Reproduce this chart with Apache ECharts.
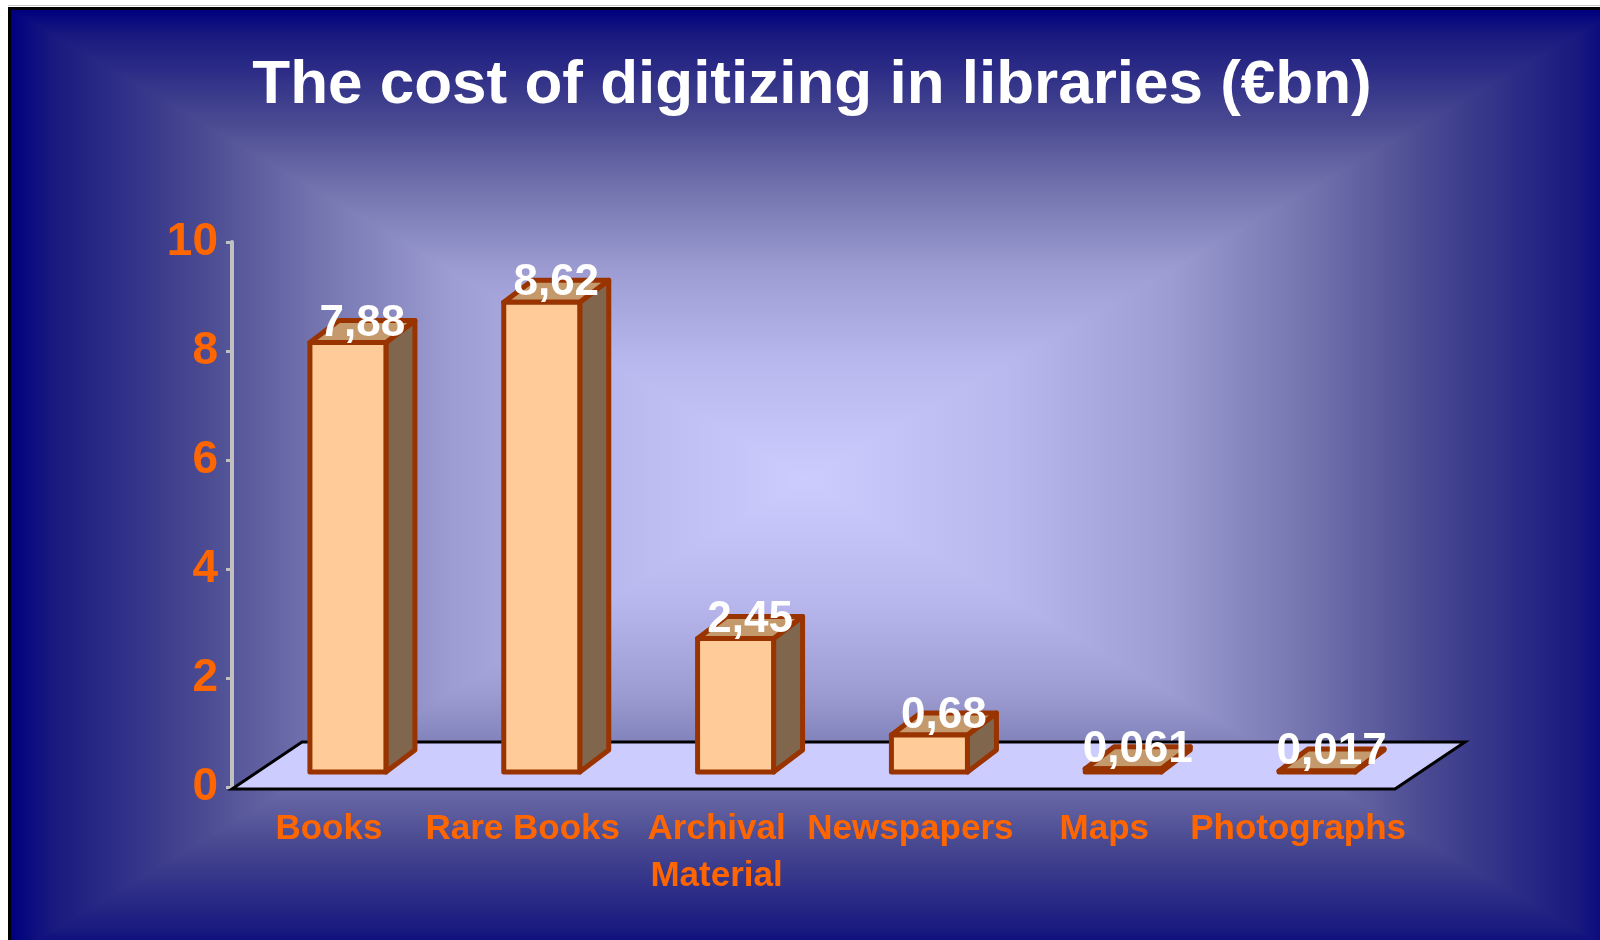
<!DOCTYPE html>
<html>
<head>
<meta charset="utf-8">
<title>The cost of digitizing in libraries</title>
<script src="https://cdn.jsdelivr.net/npm/echarts@6/dist/echarts.min.js"></script>
<style>
  html, body { margin: 0; padding: 0; background: #ffffff; }
  #chart { width: 1600px; height: 940px; }
</style>
</head>
<body>
<div id="chart"></div>
<script>
// chart data
const categories = ["Books", "Rare Books", "Archival\nMaterial", "Newspapers", "Maps", "Photographs"];
const costs = [7.88, 8.62, 2.45, 0.68, 0.061, 0.017];
const yTicks = { min: 0, max: 10, interval: 2 };

const FONT = "'Liberation Sans', Arial, sans-serif";
const ORANGE = "#ff6600";

// fake 3d geometry (pixels)
const BAR_SHIFT = 19;      // bar centre right of category centre
const BAR_HALF = 38;       // half width of front face
const BAR_LIFT = 15;       // bar bottom above the value axis zero
const BAR_DX = 29, BAR_DY = 22;
const FLOOR_DX = 70, FLOOR_DY = 47;

const chart = echarts.init(document.getElementById("chart"));

// rectangular "from centre" gradient: two half rects + two triangles on top
const L = 11, T = 10, R = 1620, B = 955;
const C = [806, 480];
const stops = [
  { offset: 0, color: "#000080" },
  { offset: 0.05, color: "#18187f" },
  { offset: 0.12, color: "#2a2a86" },
  { offset: 0.24, color: "#4a4a92" },
  { offset: 0.37, color: "#7070ac" },
  { offset: 0.55, color: "#9c9cd2" },
  { offset: 0.75, color: "#b8b8ee" },
  { offset: 1, color: "#ccccff" }
];
const grad = (x, y, x2, y2) => new echarts.graphic.LinearGradient(x, y, x2, y2, stops);

const background = [
  { type: "rect", z: -12, silent: true, shape: { x: L, y: T, width: C[0] - L, height: B - T }, style: { fill: grad(0, 0, 1, 0) } },
  { type: "rect", z: -12, silent: true, shape: { x: C[0], y: T, width: R - C[0], height: B - T }, style: { fill: grad(1, 0, 0, 0) } },
  { type: "polygon", z: -11, silent: true, shape: { points: [[L, T], [R, T], C] }, style: { fill: grad(0, 0, 0, 1) } },
  { type: "polygon", z: -11, silent: true, shape: { points: [[L, B], [R, B], C] }, style: { fill: grad(0, 1, 0, 0) } },
  { type: "rect", z: -5, silent: true, shape: { x: 8, y: 7, width: 1592, height: 3 }, style: { fill: "#000000" } },
  { type: "rect", z: -5, silent: true, shape: { x: 8, y: 7, width: 3, height: 933 }, style: { fill: "#000000" } },
  { type: "rect", z: -5, silent: true, shape: { x: 8, y: 5, width: 1592, height: 1 }, style: { fill: "#c8c8c8" } }
];

function renderFloor(params, api) {
  const cs = params.coordSys;
  const y = cs.y + cs.height + 2;
  const x0 = cs.x, x1 = cs.x + cs.width;
  return {
    type: "polygon",
    shape: {
      points: [[x0, y], [x1, y], [x1 + FLOOR_DX, y - FLOOR_DY], [x0 + FLOOR_DX, y - FLOOR_DY]]
    },
    style: { fill: "#ccccff", stroke: "#000000", lineWidth: 3 }
  };
}

function renderBar(params, api) {
  const i = api.value(0);
  const v = api.value(1);
  const base = api.coord([i, 0]);
  const top = api.coord([i, v]);
  const cx = base[0] + BAR_SHIFT;
  const x0 = cx - BAR_HALF, x1 = cx + BAR_HALF;
  const y0 = base[1] - BAR_LIFT;
  const y1 = top[1] - BAR_LIFT;
  const edge = { stroke: "#993300", lineWidth: 5, lineJoin: "round" };
  const label = String(costs[params.dataIndex]).replace(".", ",");
  return {
    type: "group",
    children: [
      {
        type: "polygon",
        shape: { points: [[x1, y0], [x1 + BAR_DX, y0 - BAR_DY], [x1 + BAR_DX, y1 - BAR_DY], [x1, y1]] },
        style: Object.assign({ fill: "#80664d" }, edge)
      },
      {
        type: "polygon",
        shape: { points: [[x0, y1], [x1, y1], [x1 + BAR_DX, y1 - BAR_DY], [x0 + BAR_DX, y1 - BAR_DY]] },
        style: Object.assign({ fill: "#c4996c" }, edge)
      },
      {
        type: "rect",
        shape: { x: x0, y: y1, width: x1 - x0, height: y0 - y1 },
        style: Object.assign({ fill: "#ffcc99" }, edge)
      },
      {
        type: "text",
        x: cx + BAR_DX / 2,
        y: y1 - 19,
        style: {
          text: label,
          fill: "#ffffff",
          font: "bold 44px " + FONT,
          align: "center",
          verticalAlign: "middle"
        }
      }
    ]
  };
}

const option = {
  animation: false,
  graphic: background,
  title: {
    text: "The cost of digitizing in libraries (€bn)",
    left: 807,
    textAlign: "center",
    top: 50,
    textStyle: { color: "#ffffff", fontSize: 62, fontWeight: "bold", fontFamily: FONT }
  },
  grid: {
    left: 232,
    right: 205,
    top: 242,
    bottom: 153,
    containLabel: false,
    outerBoundsMode: "none"
  },
  xAxis: {
    type: "category",
    data: categories,
    axisLine: { show: false },
    axisTick: { show: false },
    axisLabel: {
      interval: 0,
      margin: 19,
      color: ORANGE,
      fontSize: 35,
      fontWeight: "bold",
      fontFamily: FONT,
      lineHeight: 47
    }
  },
  yAxis: {
    type: "value",
    min: yTicks.min,
    max: yTicks.max,
    interval: yTicks.interval,
    splitLine: { show: false },
    axisLine: { show: true, lineStyle: { color: "#c0c0c0", width: 4 } },
    axisTick: { show: true, length: 6, lineStyle: { color: "#c0c0c0", width: 3 } },
    axisLabel: {
      margin: 14,
      color: ORANGE,
      fontSize: 46,
      fontWeight: "bold",
      fontFamily: FONT
    }
  },
  series: [
    {
      type: "custom",
      name: "floor",
      z: 1,
      silent: true,
      renderItem: renderFloor,
      data: [[0, 0]]
    },
    {
      type: "custom",
      name: "cost",
      z: 3,
      renderItem: renderBar,
      encode: { x: 0, y: 1 },
      data: costs.map((c, i) => [i, c])
    }
  ]
};

chart.setOption(option);
</script>
</body>
</html>
